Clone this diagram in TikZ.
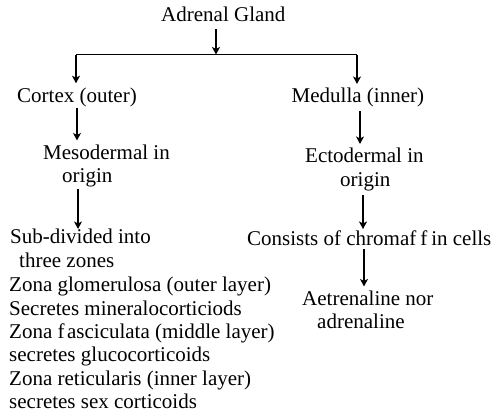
\documentclass[tikz,border=0pt]{standalone}
\usepackage{fontspec}
\setmainfont{Liberation Serif}
\usetikzlibrary{arrows.meta}
\begin{document}
\begin{tikzpicture}[x=1pt,y=-1pt,
  txt/.style={font=\fontsize{21}{23.3}\selectfont, inner xsep=0pt, inner ysep=4pt, anchor=base west, align=left},
  arr/.style={line width=1.6pt, -{Stealth[length=7.5pt,width=8pt,inset=2pt]}},
  ln/.style={line width=1.6pt}]
\useasboundingbox (0,0) rectangle (494,418);
% multi-line nodes are placed by the baseline of their last line
\node[txt] (gland) at (161,21.7) {Adrenal Gland};
\node[txt] (cortex) at (17,102) {Cortex (outer)};
\node[txt] (medulla) at (291.5,102.7) {Medulla (inner)};
\node[txt] (meso) at (43,182.5) {Mesodermal in\\\hspace*{19pt}origin};
\node[txt] (ecto) at (305,186) {Ectodermal in\\\hspace*{35pt}origin};
\node[txt] (sub) at (10,267) {Sub-divided into\\\hspace*{9pt}three zones};
\node[txt] (consists) at (247,245) {Consists of chromaf\kern4pt f\kern4pt in cells};
\node[txt] (aetr) at (302,328.5) {Aetrenaline nor\\\hspace*{15pt}adrenaline};
\node[txt] (zones) at (9,408.3) {Zona glomerulosa (outer layer)\\Secretes mineralocorticiods\\Zona f\kern2.5pt asciculata (middle layer)\\secretes glucocorticoids\\Zona reticularis (inner layer)\\secretes sex corticoids};
\coordinate (split) at (216,54.5);
\coordinate (L) at (76,54.5);
\coordinate (R) at (357,54.5);
\draw[arr, shorten <=3pt] (gland.south -| split) -- (split);
\draw[ln] (L) -- (R);
\draw[arr] (L) -- (L |- cortex.north);
\draw[arr] (R) -- (R |- medulla.north);
\draw[arr, shorten <=-3pt] (cortex.south -| 77,0) -- (meso.north -| 77,0);
\draw[arr, shorten <=-2pt, shorten >=-4pt] (meso.south -| 78,0) -- (sub.north -| 78,0);
\draw[arr] (medulla.south -| 360,0) -- (ecto.north -| 360,0);
\draw[arr, shorten >=-3pt] (ecto.south -| 363,0) -- (consists.north -| 363,0);
\draw[arr] (consists.south -| 364,0) -- (aetr.north -| 364,0);
\end{tikzpicture}
\end{document}
